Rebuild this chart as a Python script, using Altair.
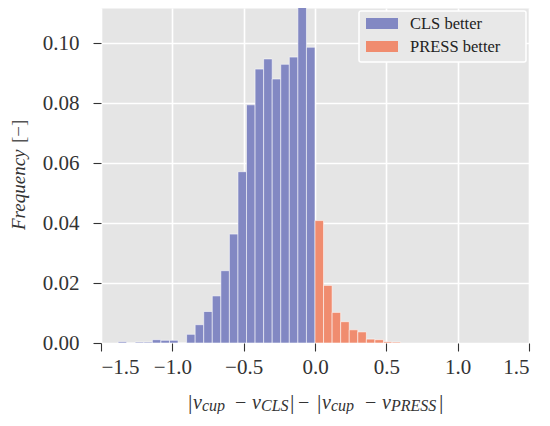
import altair as alt
import pandas as pd

# ---- data ----
groups = ["CLS better", "PRESS better"]
colors = ["#8288c3", "#f08c6f"]

cls_bin_left = [-1.38, -1.32, -1.26, -1.20, -1.14, -1.08, -1.02, -0.96, -0.90, -0.84,
                -0.78, -0.72, -0.66, -0.60, -0.54, -0.48, -0.42, -0.36, -0.30, -0.24,
                -0.18, -0.12, -0.06]
cls_freq = [0.0004, 0.0, 0.0003, 0.0003, 0.0011, 0.0009, 0.0009, 0.0, 0.0029, 0.0061,
            0.0105, 0.0157, 0.0241, 0.0363, 0.0571, 0.0794, 0.0913, 0.0947, 0.0880, 0.0929,
            0.0953, 0.1145, 0.0986]

press_bin_left = [0.00, 0.06, 0.12, 0.18, 0.24, 0.30, 0.36, 0.42, 0.48, 0.54]
press_freq = [0.0408, 0.0192, 0.0102, 0.0071, 0.0044, 0.0037, 0.0013, 0.0011, 0.0004, 0.0003]

bin_width = 0.06
x_ticks = [-1.5, -1.0, -0.5, 0.0, 0.5, 1.0, 1.5]
y_ticks = [0.00, 0.02, 0.04, 0.06, 0.08, 0.10]

rows = []
for l, f in zip(cls_bin_left, cls_freq):
    rows.append({"x0": l, "x1": round(l + bin_width, 4), "freq": f, "base": 0.0, "group": groups[0]})
for l, f in zip(press_bin_left, press_freq):
    rows.append({"x0": l, "x1": round(l + bin_width, 4), "freq": f, "base": 0.0, "group": groups[1]})
df = pd.DataFrame(rows)

FONT = "Liberation Serif"
TXT = "#333333"
W, H = 428, 335
PAD_L = 93

bars = alt.Chart(df).mark_rect(stroke="white", strokeWidth=0.8, strokeOpacity=0.7, clip=True).encode(
    x=alt.X("x0:Q",
            scale=alt.Scale(domain=[-1.5, 1.5], nice=False, zero=False),
            axis=alt.Axis(values=x_ticks, format=".1f", title=None, labelPadding=5)),
    x2="x1:Q",
    y=alt.Y("freq:Q",
            scale=alt.Scale(domain=[0, 0.11167], nice=False),
            axis=alt.Axis(values=y_ticks, format=".2f", title=None, labelPadding=14)),
    y2="base:Q",
    color=alt.Color("group:N", scale=alt.Scale(domain=groups, range=colors), legend=None),
)

layers = [bars]

def txt(s, x, y, size, style="normal", color=TXT, align="left", baseline="alphabetic", angle=0):
    m = dict(font=FONT, fontSize=size, fontStyle=style, color=color, align=align, baseline=baseline)
    if angle:
        m["angle"] = angle
    return alt.Chart(pd.DataFrame({"t": [s]})).mark_text(**m).encode(
        text="t:N", x=alt.value(x), y=alt.value(y))

ox, oy = PAD_L + 8, 8

# y-axis title
layers.append(txt("Frequency", 19 - ox, 230 - oy, 19, "italic", align="left", baseline="middle", angle=270))
layers.append(txt("[−]", 19 - ox, 143 - oy, 19, "normal", color="#555555", align="left", baseline="middle", angle=270))

# x-axis title  |v_cup − v_CLS| − |v_cup − v_PRESS|
base_y = 409 - oy
sub_y = base_y + 2
bar_y = base_y - 0.5
pieces = [
    ("|", 188, 22, "normal", bar_y),
    ("v", 193, 20, "italic", base_y),
    ("cup", 202, 16, "italic", sub_y),
    ("−", 235, 20, "normal", base_y),
    ("v", 252, 20, "italic", base_y),
    ("CLS", 261, 16, "italic", sub_y),
    ("|", 290, 22, "normal", bar_y),
    ("−", 298, 20, "normal", base_y),
    ("|", 317, 22, "normal", bar_y),
    ("v", 322, 20, "italic", base_y),
    ("cup", 331, 16, "italic", sub_y),
    ("−", 365, 20, "normal", base_y),
    ("v", 382, 20, "italic", base_y),
    ("PRESS", 391, 16, "italic", sub_y),
    ("|", 439, 22, "normal", bar_y),
]
for s, px, size, style, y in pieces:
    layers.append(txt(s, px - ox, y, size, style))

# legend (drawn as annotation), page coordinates converted to plot coordinates
layers.append(alt.Chart(pd.DataFrame({"a": [0]})).mark_rect(
    fill="#e8e8e8", stroke="white", strokeWidth=1.5, cornerRadius=2).encode(
    x=alt.value(359 - ox), x2=alt.value(526 - ox), y=alt.value(11 - oy), y2=alt.value(62 - oy)))
for i, (g, c) in enumerate(zip(groups, colors)):
    y0 = 18 - oy + i * 23
    layers.append(alt.Chart(pd.DataFrame({"a": [0]})).mark_rect(fill=c).encode(
        x=alt.value(366 - ox), x2=alt.value(398 - ox), y=alt.value(y0), y2=alt.value(y0 + 11)))
    layers.append(txt(g, 410 - ox, y0 + 11, 16.5, "normal", color="#222222"))

chart = alt.layer(*layers).properties(
    width=W, height=H,
    autosize=alt.AutoSizeParams(type="none"),
    padding={"left": PAD_L, "top": 0, "right": 534 - PAD_L - W, "bottom": 71},
).configure_view(
    fill="#e5e5e5", stroke="transparent"
).configure_axis(
    grid=True, gridColor="white", gridWidth=1.6, domain=False,
    tickColor="#333333", tickSize=8, tickWidth=1.1,
    labelFont=FONT, labelFontSize=21, labelColor=TXT,
)

chart.save("out.html", embed_options={"renderer": "svg", "actions": False})
